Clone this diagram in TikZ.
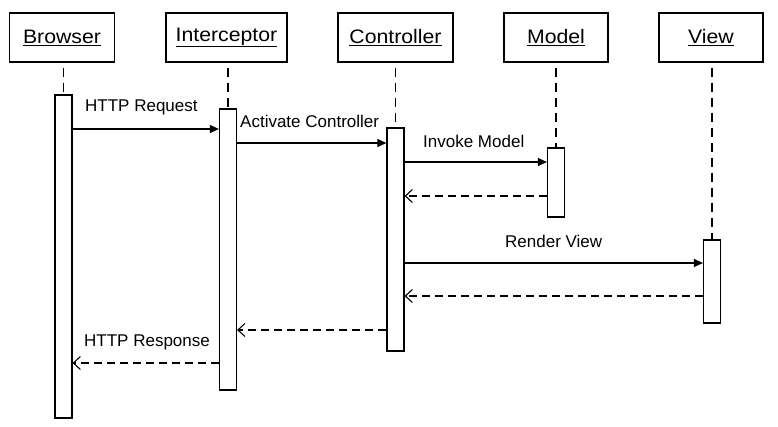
\documentclass[tikz,border=0pt]{standalone}
\usepackage{fontspec}
\setmainfont{Liberation Sans}
\newfontfamily\widefont[FakeStretch=1.09]{Liberation Sans}
\usetikzlibrary{arrows.meta}
\tikzset{
  obj/.style={draw, line width=1.3pt, minimum height=49pt, inner sep=0pt, font=\widefont\fontsize{19.5}{22}\selectfont},
  bar/.style={draw, line width=1.2pt, fill=white, minimum width=17pt, inner sep=0pt},
  life/.style={line width=1.1pt, dash pattern=on 9pt off 6pt},
  call/.style={line width=1.2pt, -{Triangle[length=9pt,width=8pt]}},
  ret/.style={line width=1.1pt, dash pattern=on 8pt off 5pt, -{Straight Barb[length=7pt,width=13pt,line width=1.1pt]}},
  msg/.style={anchor=west, inner sep=0pt, font=\fontsize{17}{19}\selectfont}
}
\begin{document}
\begin{tikzpicture}[x=1pt,y=-1pt]
\useasboundingbox (0,0) rectangle (778,426);
% header boxes
\node[obj, minimum width=104.5pt] (hB) at (62,37.5) {\underline{Browser}};
\node[obj, minimum width=121pt] (hI) at (226.5,37.5) {\underline{Interceptor}};
\node[obj, minimum width=115pt] (hC) at (395.5,37.5) {\underline{Controller}};
\node[obj, minimum width=104pt] (hM) at (556,37.5) {\underline{Model}};
\node[obj, minimum width=104pt] (hV) at (711,37.5) {\underline{View}};
% activation bars
\node[bar, minimum height=323pt] (bB) at (63.5,256.5) {};
\node[bar, minimum height=281pt] (bI) at (228,249.5) {};
\node[bar, minimum height=223pt] (bC) at (395.5,239.5) {};
\node[bar, minimum height=69pt] (bM) at (556,182.5) {};
\node[bar, minimum height=83pt] (bV) at (712,281.5) {};
% lifelines
\draw[life, shorten <=5pt] (hB.south -| bB.north) -- (bB.north);
\draw[life, shorten <=5pt] (hI.south -| bI.north) -- (bI.north);
\draw[life, shorten <=5pt] (hC.south -| bC.north) -- (bC.north);
\draw[life, shorten <=5pt] (hM.south -| bM.north) -- (bM.north);
\draw[life, shorten <=5pt] (hV.south -| bV.north) -- (bV.north);
% messages
\draw[call] (bB.east |- {(0,129)}) -- (bI.west |- {(0,129)});
\node[msg] (lReq) at (85,107) {HTTP Request};
\draw[call] (bI.east |- {(0,143)}) -- (bC.west |- {(0,143)});
\node[msg] (lAct) at (240,121) {Activate Controller};
\draw[call] (bC.east |- {(0,162)}) -- (bM.west |- {(0,162)});
\node[msg] (lInv) at (423,141) {Invoke Model};
\draw[ret] (bM.west |- {(0,196)}) -- (bC.east |- {(0,196)});
\draw[call] (bC.east |- {(0,263)}) -- (bV.west |- {(0,263)});
\node[msg] (lRen) at (505,241) {Render View};
\draw[ret] (bV.west |- {(0,296)}) -- (bC.east |- {(0,296)});
\draw[ret] (bC.west |- {(0,330)}) -- (bI.east |- {(0,330)});
\draw[ret] (bI.west |- {(0,363)}) -- (bB.east |- {(0,363)});
\node[msg] (lRes) at (84,342) {HTTP Response};
\end{tikzpicture}
\end{document}
